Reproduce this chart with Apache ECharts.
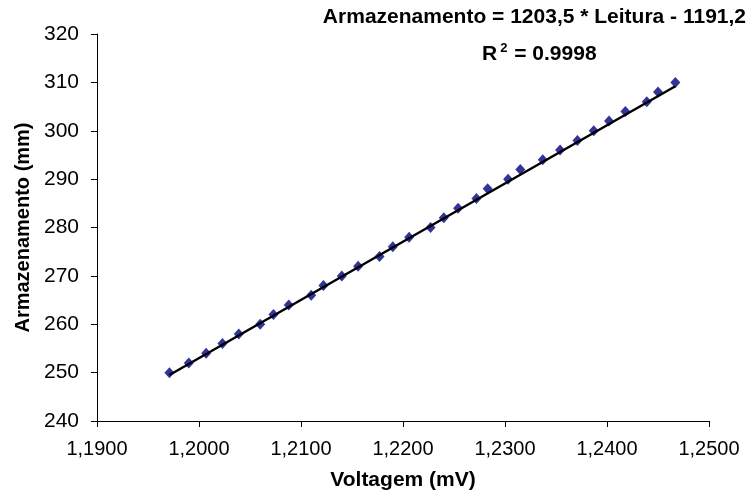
<!DOCTYPE html>
<html>
<head>
<meta charset="utf-8">
<script src="https://cdn.jsdelivr.net/npm/echarts@6/dist/echarts.min.js"></script>
<style>
  html, body { margin: 0; padding: 0; background: #fff; }
  #chart { width: 751px; height: 498px; }
</style>
</head>
<body>
<div id="chart"></div>
<script>
// Calibration readings: sensor voltage (mV) against stored water level (mm)
const voltage = [
  1.1971, 1.1990, 1.2007, 1.2023, 1.2039, 1.2060, 1.2073, 1.2088,
  1.2110, 1.2122, 1.2140, 1.2156, 1.2177, 1.2190, 1.2206, 1.2227,
  1.2240, 1.2254, 1.2272, 1.2283, 1.2303, 1.2315, 1.2337, 1.2354,
  1.2371, 1.2387, 1.2402, 1.2418, 1.2439, 1.2450, 1.2467
];
const storage = [
  250, 252, 254, 256, 258, 260, 262, 264,
  266, 268, 270, 272, 274, 276, 278, 280,
  282, 284, 286, 288, 290, 292, 294, 296,
  298, 300, 302, 304, 306, 308, 310
];

// Linear fit reported on the chart
const slope = 1203.5;
const intercept = -1191.2;
const rSquared = 0.9998;

// Axis ranges
const xMin = 1.19, xMax = 1.25, xStep = 0.01;
const yMin = 240, yMax = 320, yStep = 10;

const FONT = "'Liberation Sans', Arial, Helvetica, sans-serif";

const points = voltage.map((v, i) => [v, storage[i]]);
const xLo = Math.min.apply(null, voltage);
const xHi = Math.max.apply(null, voltage);
const fitLine = [
  [xLo, slope * xLo + intercept],
  [xHi, slope * xHi + intercept]
];

const fmtComma = (v, d) => v.toFixed(d).replace('.', ',');
const eqText = 'Armazenamento = ' + fmtComma(slope, 1) + ' * Leitura - ' +
  fmtComma(Math.abs(intercept), 1);
const r2Text = '{b|R}{sup|2}{b| = ' + rSquared.toFixed(4) + '}';

const chart = echarts.init(document.getElementById('chart'), null, { renderer: 'canvas' });

chart.setOption({
  backgroundColor: '#ffffff',
  animation: false,
  grid: { left: 97, right: 42, top: 34, bottom: 77, containLabel: false },
  xAxis: {
    type: 'value',
    min: xMin, max: xMax, interval: xStep,
    name: 'Voltagem (mV)',
    nameLocation: 'middle',
    nameGap: 49,
    nameTextStyle: { fontFamily: FONT, fontSize: 21, fontWeight: 'bold', color: '#000' },
    axisLine: { show: true, lineStyle: { color: '#000', width: 1 } },
    axisTick: { show: true, inside: false, length: 6, lineStyle: { color: '#000' } },
    splitLine: { show: false },
    axisLabel: {
      margin: 18, fontFamily: FONT, fontSize: 20, color: '#000',
      formatter: v => fmtComma(v, 4)
    }
  },
  yAxis: {
    type: 'value',
    min: yMin, max: yMax, interval: yStep,
    name: 'Armazenamento (mm)',
    nameLocation: 'middle',
    nameGap: 64,
    nameTextStyle: { fontFamily: FONT, fontSize: 20, fontWeight: 'bold', color: '#000' },
    axisLine: { show: true, lineStyle: { color: '#000', width: 1 } },
    axisTick: { show: true, inside: false, length: 6, lineStyle: { color: '#000' } },
    splitLine: { show: false },
    axisLabel: { margin: 18, fontFamily: FONT, fontSize: 21, color: '#000' }
  },
  graphic: [
    {
      type: 'text', right: 5, top: 7,
      style: { text: eqText, font: 'bold 21px ' + FONT, fill: '#000' }
    },
    {
      type: 'text', left: 482, top: 42,
      style: {
        text: r2Text,
        fill: '#000',
        rich: {
          b: { fontFamily: FONT, fontSize: 21, fontWeight: 'bold', fill: '#000', lineHeight: 24 },
          sup: {
            fontFamily: FONT, fontSize: 13, fontWeight: 'bold', fill: '#000',
            verticalAlign: 'top', padding: [0, 1, 0, 3], lineHeight: 24
          }
        }
      }
    }
  ],
  series: [
    {
      name: 'Leituras',
      type: 'scatter',
      data: points,
      symbol: 'diamond',
      symbolSize: [10, 11],
      itemStyle: { color: '#000080' },
      z: 2
    },
    {
      name: 'Ajuste linear',
      type: 'line',
      data: fitLine,
      symbol: 'none',
      lineStyle: { color: '#000', width: 2.5 },
      z: 3
    }
  ]
});
</script>
</body>
</html>
